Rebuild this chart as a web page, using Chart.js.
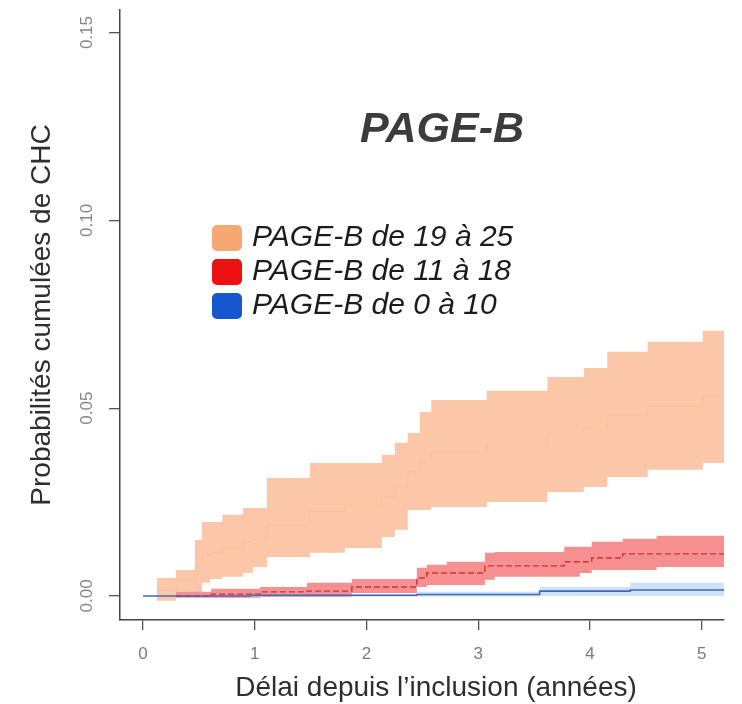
<!DOCTYPE html>
<html>
<head>
<meta charset="utf-8">
<script src="https://cdn.jsdelivr.net/npm/chart.js@4.4.1/dist/chart.umd.min.js"></script>
<style>
  body { margin: 0; background: #fff; }
  #wrap { width: 742px; height: 704px; }
</style>
</head>
<body>
<div id="wrap"><canvas id="myChart"></canvas></div>
<script>
// cumulative incidence steps (years -> probability), upper / median / lower bounds
const highTimes = [0.125, 0.295, 0.465, 0.528, 0.600, 0.710, 0.894, 0.984, 1.109, 1.494, 1.807, 2.138, 2.254, 2.370, 2.478, 2.580, 3.077, 3.620, 3.945, 4.155, 4.517, 5.009, 5.200];
const highUpper = [0.0048, 0.0069, 0.0149, 0.0197, 0.0197, 0.0216, 0.0234, 0.0234, 0.0314, 0.0354, 0.0354, 0.0376, 0.0408, 0.0434, 0.0490, 0.0522, 0.0546, 0.0583, 0.0607, 0.0650, 0.0677, 0.0706, 0.0706];
const highMid   = [0.0015, 0.0040, 0.0080, 0.0110, 0.0115, 0.0125, 0.0145, 0.0150, 0.0190, 0.0225, 0.0240, 0.0265, 0.0290, 0.0330, 0.0360, 0.0380, 0.0400, 0.0430, 0.0445, 0.0480, 0.0505, 0.0530, 0.0530];
const highLower = [-0.0013, 0.0011, 0.0011, 0.0035, 0.0045, 0.0051, 0.0061, 0.0077, 0.0104, 0.0115, 0.0128, 0.0157, 0.0176, 0.0229, 0.0229, 0.0237, 0.0250, 0.0277, 0.0290, 0.0317, 0.0336, 0.0354, 0.0354];

const midTimes = [0.295, 0.610, 1.047, 1.467, 1.869, 2.451, 2.540, 2.719, 3.060, 3.148, 3.770, 3.909, 4.016, 4.293, 4.597, 5.200];
const midUpper = [0.0011, 0.0019, 0.0024, 0.0035, 0.0045, 0.0075, 0.0083, 0.0091, 0.0115, 0.0117, 0.0131, 0.0131, 0.0144, 0.0152, 0.0160, 0.0160];
const midMid   = [0.0000, 0.0005, 0.0011, 0.0013, 0.0024, 0.0048, 0.0061, 0.0061, 0.0080, 0.0080, 0.0091, 0.0091, 0.0101, 0.0112, 0.0112, 0.0112];
const midLower = [-0.0005, -0.0005, -0.0003, -0.0003, 0.0008, 0.0024, 0.0029, 0.0029, 0.0043, 0.0051, 0.0051, 0.0061, 0.0069, 0.0069, 0.0077, 0.0077];

const lowTimes = [0.000, 0.960, 2.451, 3.550, 4.360, 5.200];
const lowUpper = [0.0000, 0.0004, 0.0011, 0.0024, 0.0035, 0.0035];
const lowMid   = [0.0000, 0.0002, 0.0004, 0.0013, 0.0016, 0.0016];
const lowLower = [0.0000, -0.0002, -0.0002, 0.0000, 0.0000, 0.0000];

const xTicks = [0, 1, 2, 3, 4, 5];
const yTicks = [0, 0.05, 0.10, 0.15];

const legendLabels = ["PAGE-B de 19 à 25", "PAGE-B de 11 à 18", "PAGE-B de 0 à 10"];
const legendColors = ["#f5a872", "#ee1111", "#1657cf"];

const FONT = '"Liberation Sans", Arial, sans-serif';

function toPoints(times, values) {
  return times.map((t, i) => ({ x: t, y: values[i] }));
}

function bandLine(times, values, fillColor, order, fill) {
  return {
    data: toPoints(times, values),
    stepped: true,
    borderWidth: 0,
    borderColor: 'rgba(0,0,0,0)',
    backgroundColor: fillColor,
    pointRadius: 0,
    fill: fill,
    order: order
  };
}

function medianLine(times, values, color, width, dash, order) {
  return {
    data: toPoints(times, values),
    stepped: true,
    borderWidth: width,
    borderColor: color,
    borderDash: dash,
    pointRadius: 0,
    fill: false,
    order: order
  };
}

const datasets = [
  medianLine(lowTimes, lowMid, '#4169b8', 1.6, [], 1),
  bandLine(lowTimes, lowUpper, 'rgba(170,200,245,0.55)', 2, '+1'),
  bandLine(lowTimes, lowLower, 'rgba(0,0,0,0)', 2, false),
  medianLine(midTimes, midMid, '#c83434', 1.4, [6, 3], 3),
  bandLine(midTimes, midUpper, 'rgba(240,70,70,0.6)', 4, '+1'),
  bandLine(midTimes, midLower, 'rgba(0,0,0,0)', 4, false),
  medianLine(highTimes, highMid, 'rgba(238,168,135,0.22)', 1, [], 5),
  bandLine(highTimes, highUpper, '#fbc7a8', 6, '+1'),
  bandLine(highTimes, highLower, 'rgba(0,0,0,0)', 6, false)
];

// title, legend, x axis title and rotated y tick labels
const overlay = {
  id: 'overlay',
  afterDraw(chart) {
    const ctx = chart.ctx;
    const y = chart.scales.y;
    ctx.save();

    ctx.fillStyle = '#858585';
    ctx.font = '17px ' + FONT;
    ctx.textAlign = 'center';
    ctx.textBaseline = 'middle';
    yTicks.forEach(v => {
      ctx.save();
      ctx.translate(87, y.getPixelForValue(v));
      ctx.rotate(-Math.PI / 2);
      ctx.fillText(v.toFixed(2), 0, 0);
      ctx.restore();
    });

    ctx.fillStyle = '#2e2e2e';
    ctx.font = '28px ' + FONT;
    ctx.fillText('Délai depuis l’inclusion (années)', 436, 688);

    ctx.fillStyle = '#3c3c3c';
    ctx.font = 'italic bold 43px ' + FONT;
    ctx.fillText('PAGE-B', 442, 130);

    ctx.textAlign = 'left';
    ctx.font = 'italic 30px ' + FONT;
    legendLabels.forEach((label, i) => {
      const cy = 238 + i * 34;
      ctx.fillStyle = legendColors[i];
      ctx.beginPath();
      ctx.roundRect(212, cy - 13, 30, 26, 5);
      ctx.fill();
      ctx.fillStyle = '#1c1c1c';
      ctx.fillText(label, 252, cy);
    });
    ctx.restore();
  }
};

new Chart(document.getElementById('myChart'), {
  type: 'line',
  data: { datasets: datasets },
  options: {
    responsive: true,
    maintainAspectRatio: false,
    animation: false,
    layout: { padding: { top: 10, right: 18, left: 0, bottom: 0 } },
    plugins: { legend: { display: false }, tooltip: { enabled: false } },
    scales: {
      x: {
        type: 'linear',
        min: -0.206,
        max: 5.2,
        afterBuildTicks: s => { s.ticks = xTicks.map(v => ({ value: v })); },
        afterFit: s => { s.height = 84; },
        ticks: { font: { size: 17, family: FONT }, color: '#7a7a7a', padding: 14 },
        grid: { drawOnChartArea: false, drawTicks: true, tickLength: 10, color: '#555', lineWidth: 1.3 },
        border: { color: '#444', width: 1.5 }
      },
      y: {
        type: 'linear',
        min: -0.0064,
        max: 0.156,
        afterBuildTicks: s => { s.ticks = yTicks.map(v => ({ value: v })); },
        afterFit: s => { s.width = 120; },
        ticks: { display: false },
        grid: { drawOnChartArea: false, drawTicks: true, tickLength: 11, color: '#555', lineWidth: 1.3 },
        border: { color: '#444', width: 1.5 },
        title: { display: true, text: 'Probabilités cumulées de CHC', color: '#2e2e2e',
                 font: { size: 28, family: FONT }, padding: { top: 25, bottom: 0 } }
      }
    }
  },
  plugins: [overlay]
});
</script>
</body>
</html>
